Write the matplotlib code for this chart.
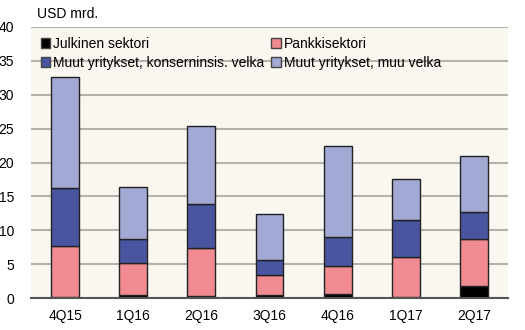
import matplotlib.pyplot as plt
import numpy as np
from matplotlib.patches import Patch

plt.rcParams['font.family'] = ['Liberation Sans', 'DejaVu Sans']

quarters = ['4Q15', '1Q16', '2Q16', '3Q16', '4Q16', '1Q17', '2Q17']
julkinen = [0.2, 0.45, 0.25, 0.5, 0.6, 0.2, 1.7]
pankki = [7.5, 4.75, 7.15, 2.85, 4.1, 5.9, 7.05]
konserni = [8.5, 3.5, 6.5, 2.25, 4.35, 5.35, 3.9]
muu = [16.4, 7.7, 11.5, 6.75, 13.45, 6.05, 8.35]

series = [
    ('Julkinen sektori', julkinen, '#000000'),
    ('Pankkisektori', pankki, '#F08C91'),
    ('Muut yritykset, konserninsis. velka', konserni, '#4A55A2'),
    ('Muut yritykset, muu velka', muu, '#A3A9D5'),
]

fig = plt.figure(figsize=(5.25, 3.3), dpi=100)
ax = fig.add_axes([31/525, 32/330, 477/525, 271/330])
ax.set_facecolor('#FAF6F0')

x = np.arange(len(quarters))
bottom = np.zeros(len(quarters))
for name, vals, col in series:
    ax.bar(x, vals, 0.41, bottom=bottom, color=col, edgecolor='#222222',
           linewidth=1.0, zorder=3)
    bottom += np.array(vals)

ax.set_xlim(-0.5, len(quarters) - 0.5)
ax.set_ylim(0, 40)
ax.set_yticks(range(0, 41, 5))
ax.set_xticks(x)
ax.set_xticklabels(quarters)
ax.yaxis.grid(True, color='#B5B2AC', linewidth=1.5, zorder=0)
ax.tick_params(length=0, labelsize=10)
ax.tick_params(axis='x', pad=8)
ax.tick_params(axis='y', pad=12)
for s in ['top', 'right', 'left']:
    ax.spines[s].set_visible(False)
ax.spines['bottom'].set_color('#555555')
ax.spines['bottom'].set_linewidth(1.5)
ax.spines['bottom'].set_zorder(4)

# legend fills column by column, reorder so rows read like the original
handles = [Patch(facecolor=c, edgecolor='#444444', label=n) for n, v, c in series]
handles = [handles[0], handles[2], handles[1], handles[3]]
ax.legend(handles=handles, ncol=2, loc='upper left', bbox_to_anchor=(0.0, 1.0),
          frameon=False, fontsize=10, handlelength=0.7, handleheight=0.7,
          handletextpad=0.2, columnspacing=0.5, labelspacing=0.35,
          borderaxespad=0.3)

fig.text(37/525, 1 - 14/330, 'USD mrd.', fontsize=10, va='center', ha='left')

fig.savefig('out.png', dpi=100, facecolor='white')
